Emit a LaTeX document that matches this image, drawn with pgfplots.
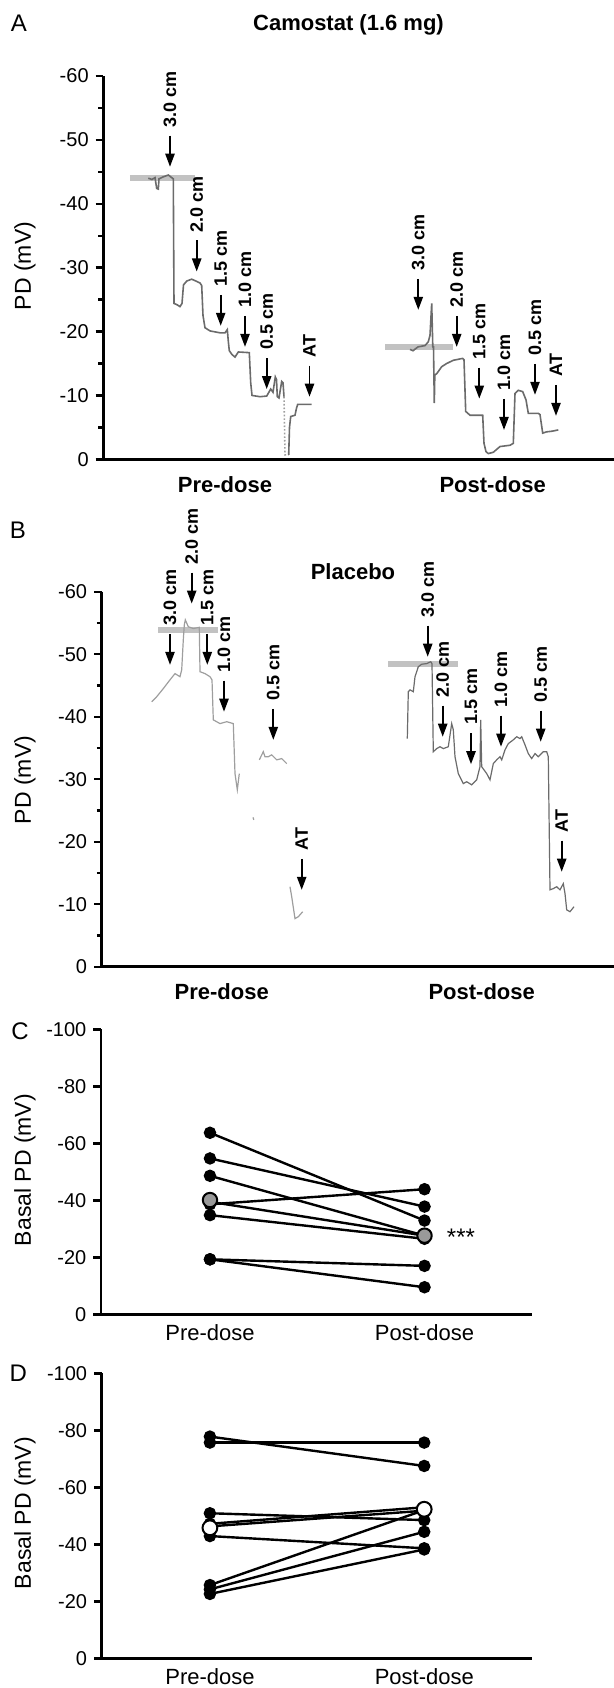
\documentclass[border=0pt]{standalone}
\usepackage{fontspec}
\setmainfont{Liberation Sans}
\usepackage{pgfplots}
\pgfplotsset{compat=1.18}
\usetikzlibrary{arrows.meta}

\definecolor{tracegray}{gray}{0.42}
\definecolor{fadegray}{gray}{0.62}
\definecolor{bargray}{gray}{0.76}
\definecolor{meangray}{gray}{0.6}

% arrow pointing down at (x,y) with a rotated label above it
\newcommand{\site}[3]{%
  \draw[-{Triangle[width=4.6pt,length=6.5pt]}, line width=0.9pt]
    ([yshift=15.5pt]axis cs:#1,#2) -- (axis cs:#1,#2);
  \node[rotate=90, anchor=west, inner sep=0pt,
        font=\bfseries\fontsize{9}{10}\selectfont]
    at ([yshift=19.5pt]axis cs:#1,#2) {#3};}

\pgfplotsset{
  panel/.style={
    scale only axis, anchor=south west, clip=false,
    y dir=reverse, ymax=0,
    axis y line*=left, axis x line*=middle,
    hide obscured x ticks=false, hide obscured y ticks=false,
    xtick=\empty,
    axis line style={line width=1.4pt, -},
    tick style={line width=1.2pt, black},
    tick align=outside,
    major tick length=3.8pt, minor tick length=2.4pt,
    tick label style={font=\fontsize{10}{12}\selectfont},
  },
  trace/.style={mark=none, color=tracegray, line width=0.8pt},
  bar/.style={mark=none, color=bargray, line width=3pt},
  pair/.style={black, line width=1.2pt, mark=*, mark size=2.5pt,
    mark options={fill=black, draw=black}},
}

\begin{document}
\begin{tikzpicture}

% ---------------- A ----------------
\begin{axis}[panel, at={(51.65pt,-229.65pt)}, width=255.35pt, height=191.65pt,
  xmin=103.3, xmax=614, ymin=-60,
  ytick={-60,-50,-40,-30,-20,-10,0},
  yticklabels={{-60},{-50},{-40},{-30},{-20},{-10},{0}},
  minor y tick num=1]
\addplot[bar] coordinates {(130,-44.0) (195,-44.0)};
\addplot[bar] coordinates {(385,-17.6) (453.3,-17.6)};
\addplot[trace] coordinates {
  (148.3,-44.0) (152,-43.8) (155,-44.1) (156.7,-42.4) (158.3,-42.3) (159,-43.9)
  (163,-44.2) (168.3,-44.5) (171.7,-44.1) (173.3,-43.9) (174,-24.4) (177,-24.2)
  (180,-23.9) (182,-24.4) (183.5,-27.3) (186.7,-27.9) (191.7,-28.2) (196,-27.9)
  (200,-27.6) (201.7,-27.2) (203,-22.5) (205,-20.6) (210,-20.1) (220,-19.8)
  (225,-19.8) (227.3,-20.3) (228.3,-18.5) (229.3,-17.0) (232,-16.4) (235,-16.0)
  (238.3,-16.8) (249.3,-16.7) (250.7,-12.0) (252,-10.0) (260,-9.8) (266.7,-9.9)
  (270.7,-11.0) (273,-10.5) (275.3,-12.9) (276.5,-12.5) (277.3,-9.8) (279,-9.6)
  (281.7,-12.2) (283,-12.0) (284,-9.8)};
\addplot[mark=none, color=fadegray, line width=0.8pt, densely dotted]
  coordinates {(284,-9.8) (285,-0.7) (288.7,-0.7)};
\addplot[trace] coordinates {
  (288.7,-0.7) (289.5,-5.0) (290.7,-6.7) (295,-6.9) (296.5,-8.0) (297.7,-8.6)
  (311.7,-8.6)};
\addplot[trace] coordinates {
  (410,-17.2) (413,-17.0) (418,-17.6) (425,-17.8) (428.3,-18.4) (430,-19.4)
  (431.7,-24.4) (432.8,-17.6) (433.5,-17.6) (434.3,-8.8) (434.8,-13.2)
  (436.7,-13.4) (441.7,-14.5) (446.7,-15.0) (453.3,-15.5) (462.7,-15.8)
  (464,-15.6) (465.7,-7.5) (470,-6.9) (482.7,-6.9) (484,-2.5) (486,-1.2)
  (488.3,-0.9) (493.3,-1.1) (500,-2.0) (510,-2.2) (513.3,-2.5) (515,-10.3)
  (518.3,-10.8) (522.7,-10.6) (526,-9.3) (528.3,-7.2) (538.3,-7.2) (540,-7.0)
  (542.7,-4.1) (546.7,-4.3) (552,-4.4) (558.3,-4.6)};
\site{170}{-45.8}{3.0 cm}
\site{196.7}{-29.4}{2.0 cm}
\site{220.7}{-20.9}{1.5 cm}
\site{245}{-17.6}{1.0 cm}
\site{266.7}{-11.0}{0.5 cm}
\site{309.5}{-9.8}{AT}
\site{418.3}{-23.4}{3.0 cm}
\site{456.7}{-17.6}{2.0 cm}
\site{479.3}{-9.5}{1.5 cm}
\site{504}{-4.6}{1.0 cm}
\site{535}{-10.1}{0.5 cm}
\site{556}{-6.8}{AT}
\end{axis}

% ---------------- B ----------------
\begin{axis}[panel, at={(50.85pt,-483.35pt)}, width=256.15pt, height=187.5pt,
  xmin=101.7, xmax=614, ymin=-60,
  ytick={-60,-50,-40,-30,-20,-10,0},
  yticklabels={{-60},{-50},{-40},{-30},{-20},{-10},{0}},
  minor y tick num=1, unbounded coords=jump]
\addplot[bar] coordinates {(158.3,-53.8) (218.3,-53.8)};
\addplot[bar] coordinates {(388.3,-48.4) (458.3,-48.4)};
\addplot[mark=none, color=fadegray, line width=0.6pt] coordinates {
  (151.7,-42.4) (156.7,-43.2) (163.3,-44.5) (170,-45.9) (175,-46.9) (180,-46.4)
  (181.7,-47.5) (183.3,-52.3) (184.3,-54.7) (185.3,-55.5) (188.3,-54.4)
  (193.3,-54.1) (199.3,-54.3) (200,-47.2) (205,-46.9) (210,-46.4) (212,-45.9)
  (213.3,-39.5) (220,-38.9) (226.7,-39.2) (233.3,-38.9) (235,-30.9) (237.3,-28.3)
  (239.3,-30.9) (240,nan)
  (253,-23.9) (253.8,-23.5) (254,nan)
  (259.3,-33.1) (263.3,-34.4) (265,-33.6) (268.3,-33.6) (271.7,-33.9)
  (276.7,-33.1) (281.7,-33.3) (286.7,-32.5) (288,nan)
  (290,-12.8) (291.7,-11.2) (295,-7.7) (298.3,-8.0) (302.7,-8.8)};
\addplot[mark=none, color=tracegray, line width=0.6pt] coordinates {
  (407.3,-36.5) (408.3,-44.0) (410,-44.3) (413.3,-44.0) (415,-46.4) (418.3,-48.0)
  (421.7,-48.4) (426.7,-48.5) (430.7,-48.8) (432,-48.5) (433.3,-34.4)
  (436.7,-34.9) (440,-35.2) (443.3,-34.9) (448.3,-35.2) (451.7,-38.9)
  (453.3,-37.9) (455,-33.6) (458.3,-30.9) (463.3,-29.3) (466.7,-29.6)
  (471.7,-29.1) (476.7,-29.9) (480,-32.0) (480.7,-39.5) (481.7,-32.0)
  (486.7,-30.9) (490,-29.9) (493.3,-32.5) (496.7,-33.1) (500,-33.6)
  (501.7,-33.1) (505,-34.7) (508.3,-35.7) (513.3,-36.3) (516.7,-36.8)
  (520,-36.5) (521.7,-36.8) (525,-35.5) (528.3,-34.1) (531.7,-33.3)
  (535,-34.1) (538.3,-33.6) (543.3,-34.4) (546.7,-34.4) (548.3,-33.6)
  (550,-12.3) (553.3,-12.5) (556.7,-12.8) (560,-12.3) (563.3,-13.3)
  (565,-11.7) (566.7,-9.1) (570,-8.8) (574,-9.6)};
\site{170}{-48.3}{3.0 cm}
\site{191.7}{-58.1}{2.0 cm}
\site{207.3}{-48.3}{1.5 cm}
\site{224}{-40.8}{1.0 cm}
\site{273.3}{-36.3}{0.5 cm}
\site{301.7}{-12.3}{AT}
\site{427.7}{-49.6}{3.0 cm}
\site{442.7}{-36.8}{2.0 cm}
\site{471}{-32.4}{1.5 cm}
\site{501}{-35.2}{1.0 cm}
\site{540.7}{-36.0}{0.5 cm}
\site{561.7}{-15.2}{AT}
\end{axis}

% ---------------- C ----------------
\begin{axis}[panel, at={(50.5pt,-657.15pt)}, width=215.5pt, height=142.5pt,
  xmin=0.492, xmax=2.501, ymin=-100,
  ytick={-100,-80,-60,-40,-20,0},
  yticklabels={{-100},{-80},{-60},{-40},{-20},{0}}]
\addplot[pair] coordinates {(1,-63.7) (2,-32.9)};
\addplot[pair] coordinates {(1,-54.7) (2,-37.8)};
\addplot[pair] coordinates {(1,-48.6) (2,-27.6)};
\addplot[pair] coordinates {(1,-38.6) (2,-43.9)};
\addplot[pair] coordinates {(1,-39.5) (2,-27.6)};
\addplot[pair] coordinates {(1,-34.8) (2,-26.5)};
\addplot[pair] coordinates {(1,-19.3) (2,-17.0)};
\addplot[pair] coordinates {(1,-19.3) (2,-9.5)};
\addplot[only marks, mark=*, mark size=3.6pt,
  mark options={fill=meangray, draw=black, line width=1pt}]
  coordinates {(1,-40.1) (2,-27.6)};
\end{axis}

% ---------------- D ----------------
\begin{axis}[panel, at={(50.85pt,-829.15pt)}, width=215.15pt, height=142.5pt,
  xmin=0.495, xmax=2.503, ymin=-100,
  ytick={-100,-80,-60,-40,-20,0},
  yticklabels={{-100},{-80},{-60},{-40},{-20},{0}}]
\addplot[pair] coordinates {(1,-77.8) (2,-67.5)};
\addplot[pair] coordinates {(1,-75.7) (2,-75.7)};
\addplot[pair] coordinates {(1,-50.9) (2,-48.5)};
\addplot[pair] coordinates {(1,-47.2) (2,-53.0)};
\addplot[pair] coordinates {(1,-46.3) (2,-51.8)};
\addplot[pair] coordinates {(1,-42.9) (2,-38.6)};
\addplot[pair] coordinates {(1,-25.7) (2,-52.0)};
\addplot[pair] coordinates {(1,-24.2) (2,-44.4)};
\addplot[pair] coordinates {(1,-22.6) (2,-38.2)};
\addplot[only marks, mark=*, mark size=3.7pt,
  mark options={fill=white, draw=black, line width=1pt}]
  coordinates {(1,-45.8) (2,-52.3)};
\end{axis}

% ---------------- text ----------------
\begin{scope}[every node/.style={inner sep=0pt}]
\node[font=\fontsize{12}{14}\selectfont] at (9.5pt,-11.5pt) {A};
\node[font=\fontsize{12}{14}\selectfont] at (9pt,-265pt) {B};
\node[font=\fontsize{12}{14}\selectfont] at (10pt,-515.85pt) {C};
\node[font=\fontsize{12}{14}\selectfont] at (9.15pt,-686.65pt) {D};
\node[font=\bfseries\fontsize{11}{13}\selectfont] at (174.25pt,-12.5pt) {Camostat (1.6 mg)};
\node[font=\bfseries\fontsize{11}{13}\selectfont] at (176.5pt,-285.85pt) {Placebo};
\node[rotate=90, font=\fontsize{11.5}{13}\selectfont] at (12.5pt,-133pt) {PD (mV)};
\node[rotate=90, font=\fontsize{11.5}{13}\selectfont] at (12.5pt,-390pt) {PD (mV)};
\node[rotate=90, font=\fontsize{11.5}{13}\selectfont] at (12.5pt,-585pt) {Basal PD (mV)};
\node[rotate=90, font=\fontsize{11.5}{13}\selectfont] at (12.5pt,-756.5pt) {Basal PD (mV)};
\node[font=\bfseries\fontsize{11}{13}\selectfont] at (112.5pt,-242.5pt) {Pre-dose};
\node[font=\bfseries\fontsize{11}{13}\selectfont] at (246.35pt,-242.5pt) {Post-dose};
\node[font=\bfseries\fontsize{11}{13}\selectfont] at (110.85pt,-495.85pt) {Pre-dose};
\node[font=\bfseries\fontsize{11}{13}\selectfont] at (240.85pt,-495.85pt) {Post-dose};
\node[font=\fontsize{11}{13}\selectfont] at (105pt,-666.5pt) {Pre-dose};
\node[font=\fontsize{11}{13}\selectfont] at (212.25pt,-666.5pt) {Post-dose};
\node[font=\fontsize{11}{13}\selectfont] at (105pt,-838.35pt) {Pre-dose};
\node[font=\fontsize{11}{13}\selectfont] at (212.15pt,-838.35pt) {Post-dose};
\node[font=\fontsize{12}{14}\selectfont] at (230.5pt,-618.5pt) {***};
\end{scope}

\pgfresetboundingbox
\useasboundingbox (0,0) rectangle (307pt,-844pt);
\end{tikzpicture}
\end{document}
